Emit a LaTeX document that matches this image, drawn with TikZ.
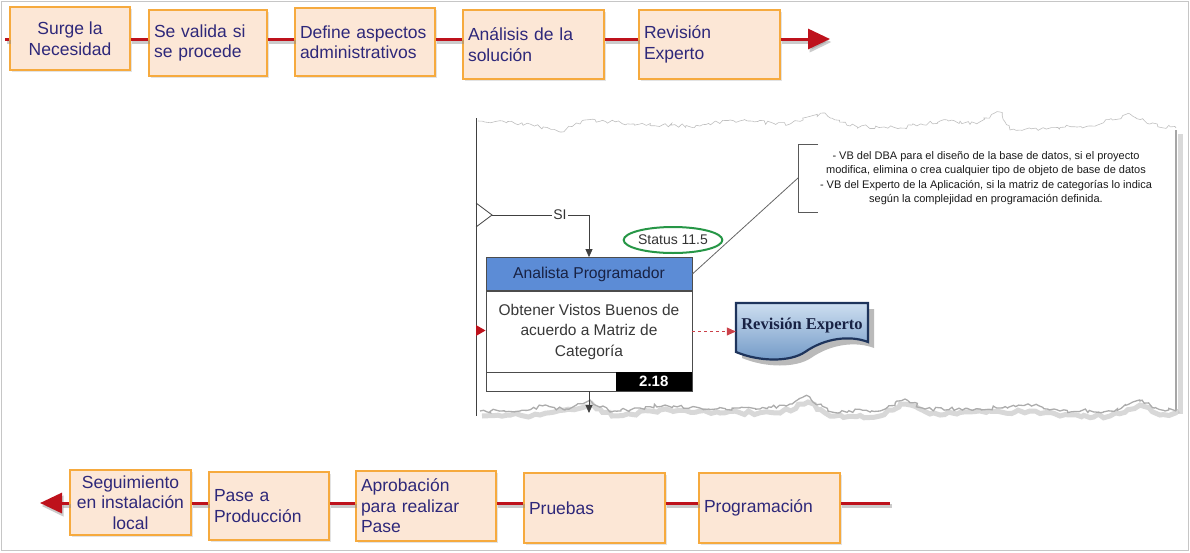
\documentclass[tikz,border=0pt]{standalone}
\usepackage{fontspec}
\setmainfont{Liberation Sans}
\newfontfamily\docserif{Liberation Serif}
\usetikzlibrary{arrows.meta,decorations.pathmorphing,shapes.geometric,shadows}

\definecolor{peach}{RGB}{252,231,214}
\definecolor{boxedge}{RGB}{246,170,62}
\definecolor{ink}{RGB}{46,40,122}
\definecolor{flowred}{RGB}{190,18,28}
\definecolor{hdrblue}{RGB}{92,140,214}
\definecolor{docA}{RGB}{205,222,240}
\definecolor{docB}{RGB}{112,152,198}
\definecolor{docedge}{RGB}{30,52,92}
\definecolor{okgreen}{RGB}{38,150,70}
\definecolor{navy}{RGB}{24,34,68}

\tikzset{
  stepbox/.style={draw=boxedge, fill=peach, line width=1.6pt, text=ink,
    font=\fontsize{17.5}{20.5}\selectfont, inner sep=5pt,
    drop shadow={shadow xshift=1.5pt, shadow yshift=-1.5pt, opacity=.22}},
  flow/.style={draw=flowred, line width=3pt,
    preaction={draw=black!45, line width=4pt, opacity=.45,
      transform canvas={shift={(1.5pt,-3pt)}}}},
  bigtip/.style={-{Triangle[width=20pt,length=22pt]}},
  linec/.style={draw=black!75, line width=0.8pt},
  blacktip/.style={-{Triangle[width=7pt,length=8pt]}},
}

\begin{document}
\begin{tikzpicture}[x=1pt,y=-1pt]
\useasboundingbox (0,0) rectangle (1190,552);
\draw[gray!45, line width=1pt] (1.5,1.5) rectangle (1188.5,550.5);

% ---------- upper row of steps ----------
\node[stepbox, minimum width=120pt, minimum height=63pt, align=center] (t1) at (70,38.5) {Surge la\\Necesidad};
\node[stepbox, text width=108pt, minimum height=66pt, align=left] (t2) at (208,43) {Se valida si\\se procede};
\node[stepbox, text width=130pt, minimum height=68pt, align=left] (t3) at (365,42) {Define aspectos\\administrativos};
\node[stepbox, text width=131pt, minimum height=69pt, align=left] (t4) at (533.5,44.5) {Análisis de la\\solución};
\node[stepbox, text width=131pt, minimum height=69pt, align=left] (t5) at (709.5,44.5) {Revisión\\Experto};

\coordinate (topstart) at (5,39);
\coordinate (topend) at (830,39);
\draw[flow] (topstart) -- (t1.west |- topstart);
\draw[flow] (t1.east |- topstart) -- (t2.west |- topstart);
\draw[flow] (t2.east |- topstart) -- (t3.west |- topstart);
\draw[flow] (t3.east |- topstart) -- (t4.west |- topstart);
\draw[flow] (t4.east |- topstart) -- (t5.west |- topstart);
\draw[flow, bigtip] (t5.east |- topstart) -- (topend);

% ---------- lower row of steps ----------
\node[stepbox, minimum width=121pt, minimum height=65pt, align=center] (b1) at (130.5,502.5) {Seguimiento\\en instalación\\local};
\node[stepbox, text width=110pt, minimum height=68pt, align=left] (b2) at (269,506) {Pase a\\Producción};
\node[stepbox, text width=130pt, minimum height=70pt, align=left] (b3) at (426,506) {Aprobación\\para realizar\\Pase};
\node[stepbox, text width=131pt, minimum height=70pt, align=left] (b4) at (594.5,508) {Pruebas};
\node[stepbox, text width=131pt, minimum height=70pt, align=left] (b5) at (769.5,508) {Programación};

\coordinate (botstart) at (890,503);
\coordinate (botend) at (40,503);
\draw[flow] (botstart) -- (b5.east |- botstart);
\draw[flow] (b5.west |- botstart) -- (b4.east |- botstart);
\draw[flow] (b4.west |- botstart) -- (b3.east |- botstart);
\draw[flow] (b3.west |- botstart) -- (b2.east |- botstart);
\draw[flow] (b2.west |- botstart) -- (b1.east |- botstart);
\draw[flow, bigtip] (b1.west |- botstart) -- (botend);

% ---------- torn sheet with the process detail ----------
\pgfmathsetseed{11}
\draw[gray!50, line width=0.6pt, decorate, decoration={random steps, segment length=3pt, amplitude=2pt}]
  (478,121) -- (530,124) -- (560,132) -- (585,120) -- (640,124) -- (700,126) -- (730,120)
  -- (790,124) -- (825,113) -- (850,126) -- (900,128) -- (940,121) -- (975,123) -- (1000,112)
  -- (1010,130) -- (1050,128) -- (1090,126) -- (1130,114) -- (1150,124) -- (1176,128);
% shadow of the right and lower edges
\draw[black!25, line width=5pt, opacity=.6] (1180,134) -- (1180,414);
\draw[gray!70, line width=2pt] (1176,130) -- (1176,410);
\draw[black!22, line width=5pt, opacity=.7, decorate, decoration={random steps, segment length=5pt, amplitude=2pt}]
  (482,416) -- (540,415) -- (565,410) -- (592,404) -- (612,416) -- (660,410) -- (720,413) -- (780,413)
  -- (808,402) -- (830,416) -- (880,416) -- (905,404) -- (930,414) -- (1030,411) -- (1060,416)
  -- (1110,416) -- (1140,405) -- (1160,415) -- (1178,414);
\draw[gray!65, line width=1.3pt, decorate, decoration={random steps, segment length=3pt, amplitude=2pt}]
  (480,411) -- (520,411) -- (545,405) -- (565,410) -- (590,400) -- (610,412) -- (640,408)
  -- (665,405) -- (700,408) -- (760,409) -- (790,404) -- (808,396) -- (828,411) -- (880,411)
  -- (905,399) -- (925,409) -- (980,409) -- (1030,405) -- (1060,411) -- (1110,411)
  -- (1140,401) -- (1165,411) -- (1177,409);

% lane border on the left
\draw[linec] (476,118) -- (476,416);

% ---------- task ----------
\node[draw=black!70, fill=hdrblue, line width=0.8pt, minimum width=206pt, minimum height=33pt,
      inner sep=0pt, text=navy, font=\fontsize{15.7}{15.7}\selectfont] (ap) at (589,274) {Analista Programador};
\node[draw=black!70, fill=white, line width=0.8pt, minimum width=206pt, minimum height=81pt,
      inner sep=0pt, text=black!78, align=center, font=\fontsize{15.5}{20.5}\selectfont] (task) at (589,331.5)
      {Obtener Vistos Buenos de\\acuerdo a Matriz de\\Categoría};
\node[draw=black!70, fill=white, line width=0.8pt, minimum width=206pt, minimum height=19pt, inner sep=0pt] (foot) at (589,381.5) {};
\node[fill=black, text=white, minimum width=76pt, minimum height=18.2pt, inner sep=0pt, anchor=east,
      font=\bfseries\fontsize{15}{15}\selectfont] (num) at ([xshift=-0.4pt]foot.east) {2.18};

% incoming "SI" branch
\node[font=\fontsize{14}{14}\selectfont, text=black!80, inner sep=1.5pt] (si) at (560,215) {SI};
\coordinate (gw) at (492,215);
\draw[linec] (476,203) -- (gw) -- (476,227);
\draw[linec] (gw) -- (si.west);
\draw[linec, blacktip] (si.east) -| (ap.north);

% outgoing flow
\coordinate (down) at (589,413);
\draw[linec, blacktip] (foot.south) -- (down);

% incoming message marker on the left
\fill[flowred] (476,325) -- (485.5,330.5) -- (476,336) -- cycle;

% status tag
\node[ellipse, draw=okgreen, line width=2pt, minimum width=95pt, minimum height=26pt, inner sep=0pt,
      text=black!80, font=\fontsize{14}{14}\selectfont] (st) at (673,240) {Status 11.5};

% annotation
\coordinate (br) at (798,178);
\draw[black!65, line width=1pt] (818,144) -- (798,144) -- (798,212) -- (818,212);
\draw[black!60, line width=0.8pt] (ap.east) -- (br);
\node[align=center, text=black!90, font=\fontsize{11}{14.5}\selectfont] (note) at (986,178)
  {- VB del DBA para el diseño de la base de datos, si el proyecto\\
   modifica, elimina o crea cualquier tipo de objeto de base de datos\\
   - VB del Experto de la Aplicación, si la matriz de categorías lo indica\\
   según la complejidad en programación definida.};

% document
\fill[black!45, opacity=.6] (742,309) -- (874,309) -- (874,348)
  .. controls (856,341) and (831,344) .. (811,358)
  .. controls (796,368) and (766,368) .. (742,358) -- cycle;
\shadedraw[top color=docA, bottom color=docB, draw=docedge, line width=2.2pt]
  (736,303) -- (868,303) -- (868,342)
  .. controls (850,335) and (825,338) .. (805,352)
  .. controls (790,362) and (760,362) .. (736,352) -- cycle;
\node[minimum width=132pt, minimum height=50pt, inner sep=0pt, text=navy,
      font=\docserif\bfseries\fontsize{16.5}{16.5}\selectfont] (doc) at (802,326) {Revisión Experto};
\draw[flowred!80, dashed, line width=0.8pt, -{Triangle[width=8pt,length=9pt]}] (task.east) -- (doc.west |- task.east);
\end{tikzpicture}
\end{document}
